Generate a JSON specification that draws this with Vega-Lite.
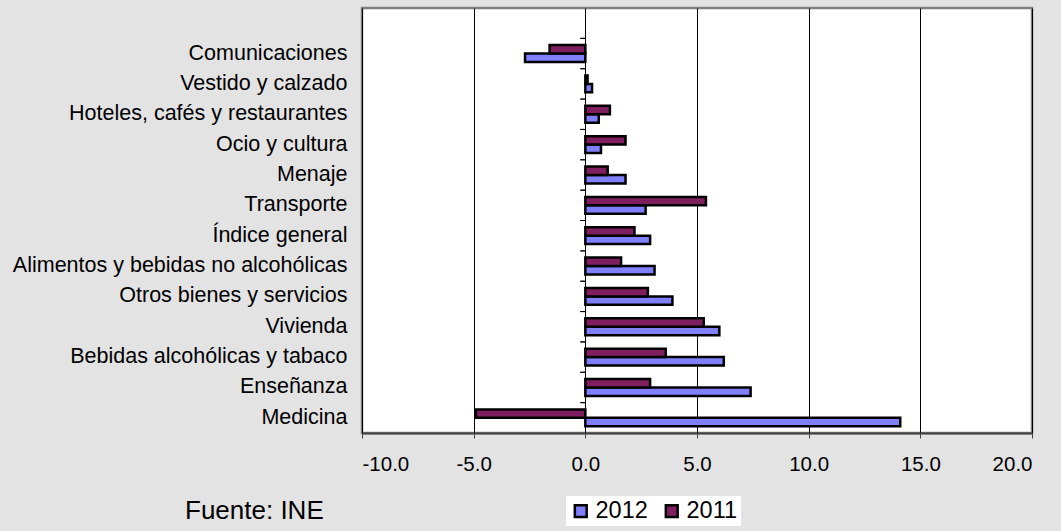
{
  "$schema": "https://vega.github.io/schema/vega-lite/v6.json",
  "autosize": "none",
  "padding": {"left": 362, "top": 8, "right": 29, "bottom": 98},
  "width": 670,
  "height": 425,
  "background": "#e3e3e3",
  "config": {
    "font": "Arial, Liberation Sans, sans-serif",
    "view": {"fill": "white", "stroke": "#808080", "strokeWidth": 2.5}
  },
  "data": {
    "values": [
      {"category": "Comunicaciones", "year": "2012", "value": -2.7},
      {"category": "Comunicaciones", "year": "2011", "value": -1.6},
      {"category": "Vestido y calzado", "year": "2012", "value": 0.3},
      {"category": "Vestido y calzado", "year": "2011", "value": 0.1},
      {"category": "Hoteles, cafés y restaurantes", "year": "2012", "value": 0.6},
      {"category": "Hoteles, cafés y restaurantes", "year": "2011", "value": 1.1},
      {"category": "Ocio y cultura", "year": "2012", "value": 0.7},
      {"category": "Ocio y cultura", "year": "2011", "value": 1.8},
      {"category": "Menaje", "year": "2012", "value": 1.8},
      {"category": "Menaje", "year": "2011", "value": 1.0},
      {"category": "Transporte", "year": "2012", "value": 2.7},
      {"category": "Transporte", "year": "2011", "value": 5.4},
      {"category": "Índice general", "year": "2012", "value": 2.9},
      {"category": "Índice general", "year": "2011", "value": 2.2},
      {"category": "Alimentos y bebidas no alcohólicas", "year": "2012", "value": 3.1},
      {"category": "Alimentos y bebidas no alcohólicas", "year": "2011", "value": 1.6},
      {"category": "Otros bienes y servicios", "year": "2012", "value": 3.9},
      {"category": "Otros bienes y servicios", "year": "2011", "value": 2.8},
      {"category": "Vivienda", "year": "2012", "value": 6.0},
      {"category": "Vivienda", "year": "2011", "value": 5.3},
      {"category": "Bebidas alcohólicas y tabaco", "year": "2012", "value": 6.2},
      {"category": "Bebidas alcohólicas y tabaco", "year": "2011", "value": 3.6},
      {"category": "Enseñanza", "year": "2012", "value": 7.4},
      {"category": "Enseñanza", "year": "2011", "value": 2.9},
      {"category": "Medicina", "year": "2012", "value": 14.1},
      {"category": "Medicina", "year": "2011", "value": -4.9}
    ]
  },
  "title": {
    "text": "Fuente: INE",
    "orient": "bottom",
    "anchor": "start",
    "frame": "group",
    "dx": -177,
    "offset": -28,
    "fontSize": 26,
    "fontWeight": "normal",
    "color": "black"
  },
  "layer": [
    {
      "mark": {"type": "bar", "stroke": "black", "strokeWidth": 2.5},
      "encoding": {
        "y": {
          "field": "category",
          "type": "nominal",
          "scale": {
            "domain": [" ", "Comunicaciones", "Vestido y calzado", "Hoteles, cafés y restaurantes", "Ocio y cultura", "Menaje", "Transporte", "Índice general", "Alimentos y bebidas no alcohólicas", "Otros bienes y servicios", "Vivienda", "Bebidas alcohólicas y tabaco", "Enseñanza", "Medicina"],
            "paddingInner": 0,
            "paddingOuter": 0
          },
          "axis": {
            "title": null,
            "domain": false,
            "ticks": false,
            "labelFontSize": 21.5,
            "labelColor": "black",
            "labelPadding": 15,
            "labelLimit": 400
          }
        },
        "x": {
          "field": "value",
          "type": "quantitative",
          "scale": {"domain": [-10, 20], "nice": false},
          "axis": {
            "title": null,
            "values": [-10, -5, 0, 5, 10, 15, 20],
            "labelExpr": "replace(format(datum.value, '.1f'), '\u2212', '-')",
            "labelFontSize": 20.5,
            "labelColor": "black",
            "labelPadding": 16,
            "tickSize": 5,
            "tickColor": "#404040",
            "domainColor": "#404040",
            "domainWidth": 2,
            "gridColor": "black",
            "gridWidth": 1,
            "gridOpacity": 1
          }
        },
        "yOffset": {
          "field": "year",
          "type": "nominal",
          "sort": ["2011", "2012"],
          "scale": {"paddingInner": 0, "paddingOuter": 0.8}
        },
        "color": {
          "field": "year",
          "type": "nominal",
          "scale": {"domain": ["2012", "2011"], "range": ["#8080ff", "#7f1f5f"]},
          "legend": {
            "orient": "none",
            "legendX": 204,
            "legendY": 488,
            "direction": "horizontal",
            "title": null,
            "fillColor": "white",
            "padding": 3,
            "symbolType": "square",
            "symbolSize": 140,
            "symbolStrokeColor": "black",
            "symbolStrokeWidth": 2.5,
            "symbolOpacity": 1,
            "labelFontSize": 23.5,
            "labelColor": "black",
            "labelOffset": 3,
            "columnPadding": 12
          }
        }
      }
    },
    {
      "mark": {"type": "tick", "orient": "horizontal", "size": 5, "thickness": 1, "color": "black", "xOffset": -2.5, "opacity": 1},
      "encoding": {
        "x": {"datum": 0, "type": "quantitative"},
        "y": {"field": "category", "type": "nominal", "bandPosition": 0}
      }
    }
  ]
}
